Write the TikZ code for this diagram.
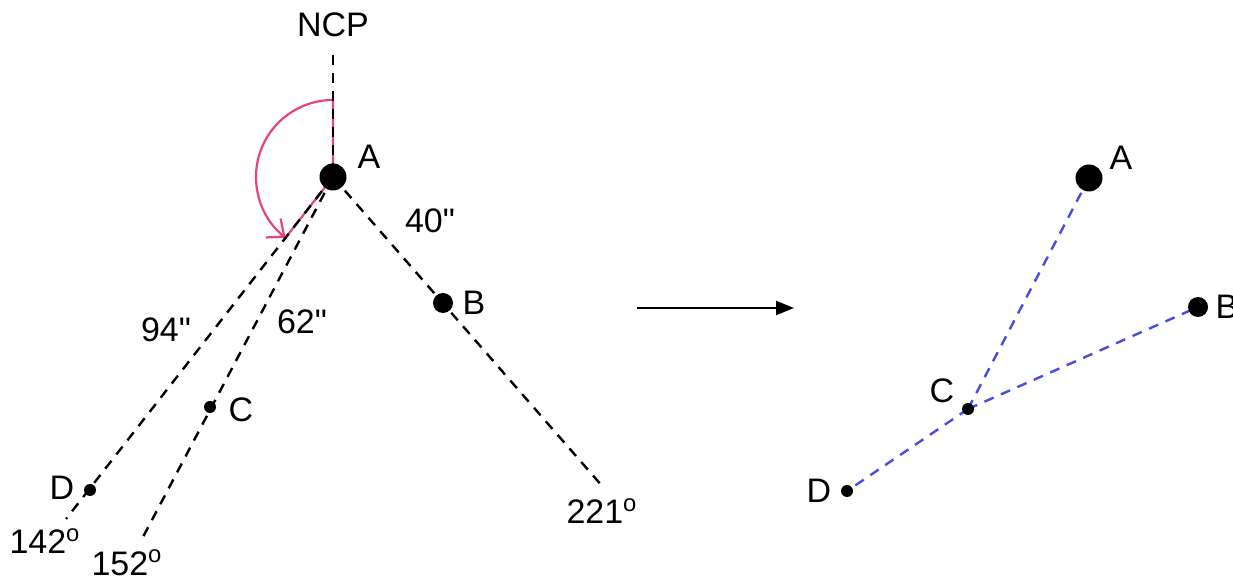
\documentclass[tikz,border=0pt]{standalone}
\usepackage{fontspec}
\setmainfont{Liberation Sans}
\usetikzlibrary{arrows.meta,positioning,backgrounds}
\definecolor{arcpink}{HTML}{E8437A}
\definecolor{fitblue}{HTML}{4A4AE4}
\tikzstyle{bigdot} = [circle, fill=black, inner sep=0pt, minimum size=13.5pt]
\tikzstyle{middot} = [circle, fill=black, inner sep=0pt, minimum size=10pt]
\tikzstyle{smalldot} = [circle, fill=black, inner sep=0pt, minimum size=6pt]
\tikzstyle{lbl} = [font=\fontsize{17}{19}\selectfont, inner sep=0pt]
\tikzstyle{pathdash} = [black, line width=1.2pt, dash pattern=on 5pt off 4pt]
\tikzstyle{fitdash} = [fitblue, line width=1.2pt, dash pattern=on 5pt off 4pt]
\newcommand{\dg}[1]{#1\textsuperscript{o}}

\begin{document}
\begin{tikzpicture}[x=0.5pt, y=-0.5pt]
\useasboundingbox (0,0) rectangle (1233,582);

% before: position angles from A
\node[bigdot] (A) at (333,177) {};
\node[middot] (B) at (443,303) {};
\node[smalldot] (C) at (210,407) {};
\node[smalldot] (D) at (90,490) {};
\coordinate (ncp) at (333,55);
\coordinate (arcstart) at (333,100);
\coordinate (endD) at (66,519);
\coordinate (endC) at (143,537);
\coordinate (endB) at (603,487);

\node[lbl] (ncplabel) at (333,25) {NCP};
\node[lbl] (Alabel) at (369,157) {A};
\node[lbl] (Blabel) at (474,303) {B};
\node[lbl] (Clabel) at (241,410) {C};
\node[lbl] (Dlabel) at (62,488) {D};
\node[lbl] (sepB) at (430,221) {40\textquotedbl};
\node[lbl] (sepC) at (302,322) {62\textquotedbl};
\node[lbl] (sepD) at (166,330) {94\textquotedbl};
\node[lbl] (paD) at (45,541) {\dg{142}};
\node[lbl] (paC) at (127,563) {\dg{152}};
\node[lbl] (paB) at (602,511) {\dg{221}};

\begin{scope}[on background layer]
\draw[arcpink, line width=1.1pt] (arcstart) -- (A.center) -- ++(232:38.5pt);
\draw[arcpink, line width=1.1pt, -{Straight Barb[length=7pt,width=12pt]}]
  (arcstart) arc[start angle=90, end angle=232, radius=38.5pt];
\draw[pathdash] (ncp) -- (A.center);
\draw[pathdash] (A.center) -- (endD);
\draw[pathdash] (A.center) -- (endC);
\draw[pathdash] (A.center) -- (endB);
\end{scope}

% arrow between the two panels
\coordinate (arrtail) at (637,308);
\coordinate (arrhead) at (794,308);
\draw[line width=1.1pt, -{Triangle[length=9pt,width=7pt]}] (arrtail) -- (arrhead);

% after: positions relative to C
\node[bigdot] (A2) at (1089,178) {};
\node[middot] (B2) at (1198,307) {};
\node[smalldot] (C2) at (968,409) {};
\node[smalldot] (D2) at (847,491) {};
\node[lbl] (A2label) at (1121,158) {A};
\node[lbl] (B2label) at (1227,307) {B};
\node[lbl] (C2label) at (942,391) {C};
\node[lbl] (D2label) at (819,491) {D};

\begin{scope}[on background layer]
\draw[fitdash] (C2.center) -- (A2.center);
\draw[fitdash] (C2.center) -- (B2.center);
\draw[fitdash] (C2.center) -- (D2.center);
\end{scope}
\end{tikzpicture}
\end{document}
